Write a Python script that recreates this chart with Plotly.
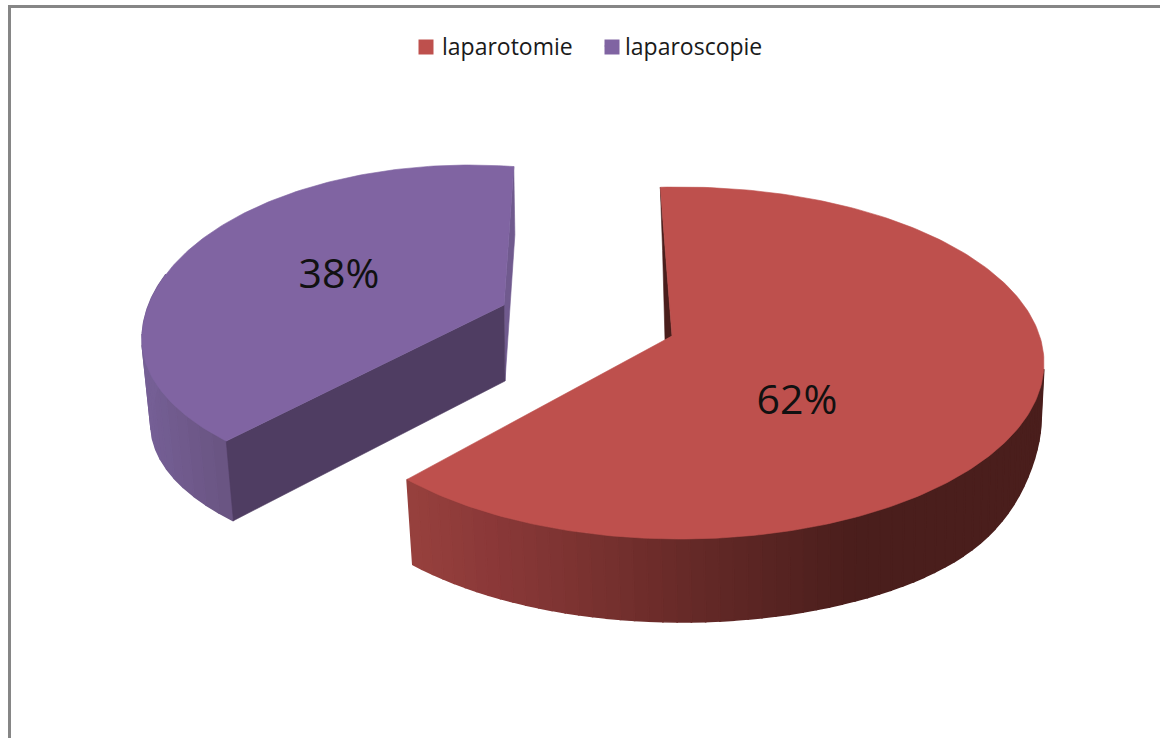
import numpy as np
import plotly.graph_objects as go

labels = ["laparotomie", "laparoscopie"]
values = [62, 38]
colors = ["#BE504D", "#8064A2"]

W, H = 1160, 738
INNER_PURPLE = "#4F3D62"
SLIVER_PURPLE = "#705A8E"
SLIVER_RED = "#4A1E1C"
FRAME = "#868686"


def mix(c0, c1, f):
    f = min(max(f, 0.0), 1.0)
    a = [int(c0[i:i + 2], 16) for i in (1, 3, 5)]
    b = [int(c1[i:i + 2], 16) for i in (1, 3, 5)]
    return "#%02X%02X%02X" % tuple(round(a[i] + (b[i] - a[i]) * f) for i in range(3))


def rim(t, g):
    """Point of a projected pie rim at parameter t (degrees, clockwise from the back)."""
    r = np.radians(t)
    s, c = np.sin(r), np.cos(r)
    b = g["b_back"] if c > 0 else g["b_front"]
    y = g["cy"] - b * c
    if s > 0:
        y -= g.get("lift", 0) * s ** 12
    return g["cx"] + g["a"] * s, y


RED_TOP = dict(cx=680, cy=363, a=364, b_back=176, b_front=176)
RED_BOT = dict(cx=682, cy=452, a=359, b_back=202, b_front=170, lift=32)
PUR_TOP = dict(cx=470, cy=340, a=328, b_back=175, b_front=151)
PUR_BOT = dict(cx=472, cy=425, a=321, b_back=192, b_front=143)

red_sweep = values[0] / sum(values) * 360 * 1.038
red_start = -3.1
red_end = red_start + red_sweep
pur_sweep = values[1] / sum(values) * 360 * 1.021
pur_start = 228.0
pur_end = pur_start + pur_sweep


def arc(t0, t1, g, n=160):
    pts = [rim(t, g) for t in np.linspace(t0, t1, n)]
    return [p[0] for p in pts], [p[1] for p in pts]


fig = go.Figure()


def poly(xs, ys, color, lw=0.6):
    xs, ys = list(xs), list(ys)
    fig.add_trace(go.Scatter(x=xs + xs[:1], y=ys + ys[:1], mode="lines", fill="toself",
                             fillcolor=color, line=dict(color=color, width=lw),
                             showlegend=False, hoverinfo="skip"))


def strips(t0, t1, top, bot, color_of, n):
    edges = np.linspace(t0, t1, n + 1)
    for a0, a1 in zip(edges[:-1], edges[1:]):
        xt, yt = arc(a0, a1, top, 4)
        xb, yb = arc(a0, a1, bot, 4)
        poly(xt + xb[::-1], yt + yb[::-1], color_of(xt[0]), lw=1.6)


# purple wedge: outer side, back sliver, cut face, top face
def pur_color(x):
    return mix("#6A5583", "#755F95", (226 - x) / 80)


strips(pur_start, 292, PUR_TOP, PUR_BOT, pur_color, 16)
ape_pt = (504, 305)
ape_pb = (505, 381)
xe, ye = rim(pur_end, PUR_TOP)
xf, yf = rim(pur_end, PUR_BOT)
poly([ape_pt[0], xe, xf, ape_pb[0]], [ape_pt[1], ye, yf, ape_pb[1]], SLIVER_PURPLE)
xs, ys = rim(pur_start, PUR_TOP)
xq, yq = rim(pur_start, PUR_BOT)
poly([ape_pt[0], xs, xq, ape_pb[0]], [ape_pt[1], ys, yq, ape_pb[1]], INNER_PURPLE)
xa, ya = arc(pur_start, pur_end, PUR_TOP)
poly([ape_pt[0]] + xa, [ape_pt[1]] + ya, colors[1])


# red wedge: back sliver, outer side, top face
def red_color(x):
    stops = [(412, "#97403D"), (500, "#8A3838"), (590, "#7A3230"), (700, "#652927"),
             (860, SLIVER_RED), (1050, SLIVER_RED)]
    for (x0, c0), (x1, c1) in zip(stops[:-1], stops[1:]):
        if x <= x1:
            return mix(c0, c1, (x - x0) / (x1 - x0))
    return stops[-1][1]


ape_rt = (672, 336)
ape_rb = (665, 340)
xe, ye = rim(red_start, RED_TOP)
xf, yf = rim(red_start, RED_BOT)
poly([ape_rt[0], xe, xf, ape_rb[0]], [ape_rt[1], ye, yf, ape_rb[1]], SLIVER_RED)
strips(92, red_end, RED_TOP, RED_BOT, red_color, 60)
xa, ya = arc(red_start, red_end, RED_TOP, 240)
poly([ape_rt[0]] + xa, [ape_rt[1]] + ya, colors[0])

# percentage labels
pct = [f"{round(v / sum(values) * 100)}%" for v in values]
fig.add_trace(go.Scatter(x=[797, 339], y=[404, 278], mode="text", text=pct,
                         textposition="middle center",
                         textfont=dict(family="Open Sans", size=41, color="#111111"),
                         showlegend=False, hoverinfo="skip"))

# legend swatches sit closer to their text than plotly's legend allows
fig.add_trace(go.Scatter(x=[426, 612], y=[47, 47], mode="markers",
                         marker=dict(symbol="square", size=15, color=colors, line=dict(width=0)),
                         showlegend=False, hoverinfo="skip"))
for name, col in zip(labels, colors):
    fig.add_trace(go.Scatter(x=[None], y=[None], mode="markers", name=name,
                             marker=dict(symbol="square", size=1, color=col, opacity=0)))

frame = dict(color=FRAME, width=3)
fig.update_layout(
    width=W, height=H, margin=dict(l=0, r=0, t=0, b=0),
    paper_bgcolor="#FFFFFF", plot_bgcolor="#FFFFFF",
    xaxis=dict(range=[0, W], visible=False, fixedrange=True),
    yaxis=dict(range=[H, 0], visible=False, fixedrange=True),
    legend=dict(orientation="h", x=402 / W, xanchor="left", y=(H - 46) / H, yanchor="middle",
                font=dict(family="Open Sans", size=23, color="#1A1A1A"),
                itemwidth=30, entrywidth=138, entrywidthmode="pixels",
                bgcolor="rgba(0,0,0,0)"),
    shapes=[
        dict(type="line", xref="x", yref="y", x0=9.5, x1=9.5, y0=5, y1=H, line=frame),
        dict(type="line", xref="x", yref="y", x0=8, x1=W, y0=6.5, y1=6.5, line=frame),
    ],
)
fig.write_html("out.html", config={"displayModeBar": False},
               post_script="document.body.style.margin='0';")
